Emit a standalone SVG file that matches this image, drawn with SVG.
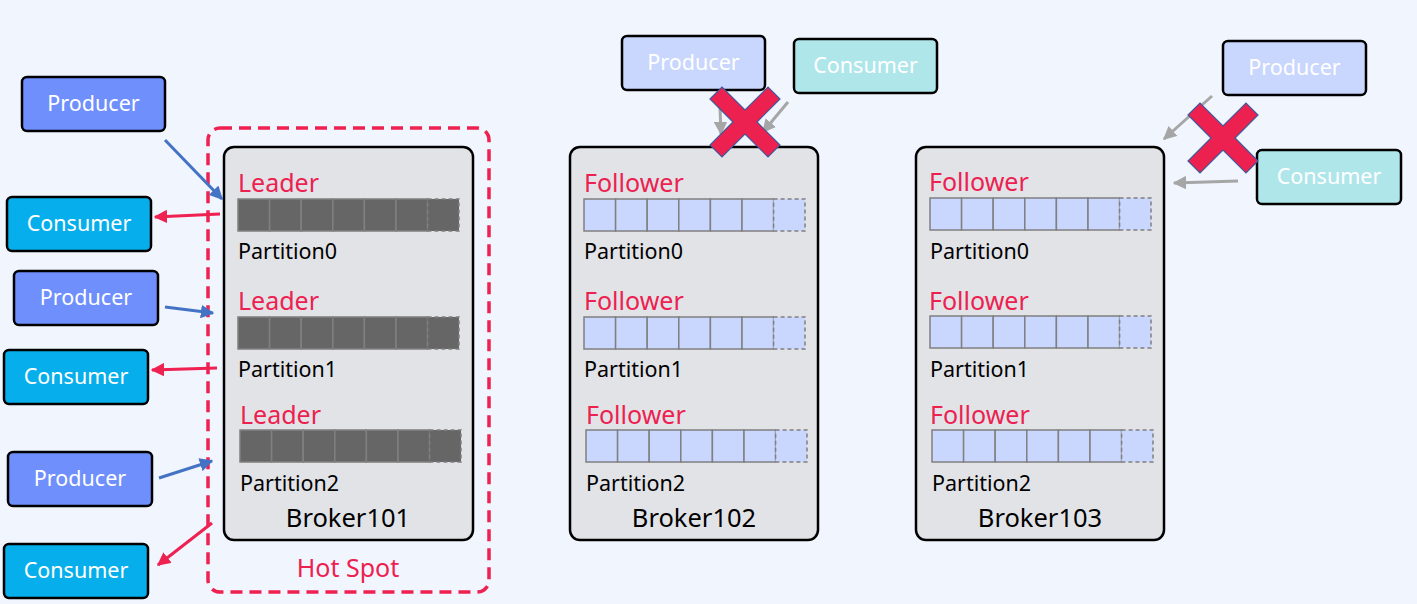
<svg xmlns="http://www.w3.org/2000/svg" width="1417" height="604" viewBox="0 0 1417 604">
<defs>
<style>
text{font-family:"Noto Sans","Open Sans","DejaVu Sans",sans-serif}
.node{stroke:#000;stroke-width:2.5}
.prod{fill:#6f8ffd}
.cons{fill:#06afeb}
.fprod{fill:#c9d6fe}
.fcons{fill:#afe6ea}
.nt{fill:#fff;font-size:21.5px;text-anchor:middle}
.broker{fill:#e2e3e7;stroke:#000;stroke-width:2.5}
.role{fill:#ec2150;font-size:25px}
.part{fill:#000;font-size:21.5px}
.bname{fill:#000;font-size:25.5px;text-anchor:middle}
.cl{fill:#666;stroke:#808080;stroke-width:1.5}
.cf{fill:#c9d6fe;stroke:#808080;stroke-width:1.5}
.dash{stroke-dasharray:4 3}
.xm{fill:#ec2150;stroke:#3e5a9c;stroke-width:1.2}
</style>
<marker id="ab" viewBox="0 0 10 10" refX="9" refY="5" markerWidth="4.5" markerHeight="4.5" orient="auto"><path d="M0,0L10,5L0,10z" fill="#4472c4"/></marker>
<marker id="ar" viewBox="0 0 10 10" refX="9" refY="5" markerWidth="4.5" markerHeight="4.5" orient="auto"><path d="M0,0L10,5L0,10z" fill="#ee2150"/></marker>
<marker id="ag" viewBox="0 0 10 10" refX="9" refY="5" markerWidth="4.5" markerHeight="4.5" orient="auto"><path d="M0,0L10,5L0,10z" fill="#a6a6a6"/></marker>
<g id="barL"><rect class="cl" x="0" y="0" width="31.6" height="32"/><rect class="cl" x="31.6" y="0" width="31.6" height="32"/><rect class="cl" x="63.2" y="0" width="31.6" height="32"/><rect class="cl" x="94.8" y="0" width="31.6" height="32"/><rect class="cl" x="126.4" y="0" width="31.6" height="32"/><rect class="cl" x="158" y="0" width="31.6" height="32"/><rect class="cl dash" x="189.6" y="0" width="31.4" height="32"/></g>
<g id="barF"><rect class="cf" x="0" y="0" width="31.6" height="32"/><rect class="cf" x="31.6" y="0" width="31.6" height="32"/><rect class="cf" x="63.2" y="0" width="31.6" height="32"/><rect class="cf" x="94.8" y="0" width="31.6" height="32"/><rect class="cf" x="126.4" y="0" width="31.6" height="32"/><rect class="cf" x="158" y="0" width="31.6" height="32"/><rect class="cf dash" x="189.6" y="0" width="31.4" height="32"/></g>
</defs>
<rect width="1417" height="604" fill="#f1f5fe"/>

<g id="hotspot">
<rect x="208" y="128" width="281" height="464" rx="12" fill="none" stroke="#ee2150" stroke-width="3.5" stroke-dasharray="12 7"/>
<text x="348" y="577" class="role" text-anchor="middle">Hot Spot</text>
</g>

<g id="broker101">
<rect class="broker" x="224" y="147" width="249" height="393" rx="10"/>
<text class="role" x="238" y="192">Leader</text>
<use href="#barL" x="238" y="199"/>
<text class="part" x="238" y="259">Partition0</text>
<text class="role" x="238" y="310">Leader</text>
<use href="#barL" x="238" y="317"/>
<text class="part" x="238" y="377">Partition1</text>
<text class="role" x="240" y="424">Leader</text>
<use href="#barL" x="240" y="430"/>
<text class="part" x="240" y="491">Partition2</text>
<text class="bname" x="348" y="527">Broker101</text>
</g>

<g id="broker102">
<rect class="broker" x="570" y="147" width="248" height="393" rx="10"/>
<text class="role" x="584" y="192">Follower</text>
<use href="#barF" x="584" y="199"/>
<text class="part" x="584" y="259">Partition0</text>
<text class="role" x="584" y="310">Follower</text>
<use href="#barF" x="584" y="317"/>
<text class="part" x="584" y="377">Partition1</text>
<text class="role" x="586" y="424">Follower</text>
<use href="#barF" x="586" y="430"/>
<text class="part" x="586" y="491">Partition2</text>
<text class="bname" x="694" y="527">Broker102</text>
</g>

<g id="broker103">
<rect class="broker" x="916" y="147" width="248" height="393" rx="10"/>
<text class="role" x="929" y="191">Follower</text>
<use href="#barF" x="930" y="198"/>
<text class="part" x="930" y="259">Partition0</text>
<text class="role" x="929" y="310">Follower</text>
<use href="#barF" x="930" y="316"/>
<text class="part" x="930" y="377">Partition1</text>
<text class="role" x="930" y="424">Follower</text>
<use href="#barF" x="932" y="430"/>
<text class="part" x="932" y="491">Partition2</text>
<text class="bname" x="1040" y="527">Broker103</text>
</g>

<g id="producer1"><rect class="node prod" x="22" y="77" width="143" height="54" rx="5"/><text class="nt" x="93.5" y="111">Producer</text></g>
<g id="consumer1"><rect class="node cons" x="7" y="197" width="144" height="54" rx="5"/><text class="nt" x="79" y="231">Consumer</text></g>
<g id="producer2"><rect class="node prod" x="14" y="271" width="144" height="54" rx="5"/><text class="nt" x="86" y="305">Producer</text></g>
<g id="consumer2"><rect class="node cons" x="4" y="350" width="144" height="54" rx="5"/><text class="nt" x="76" y="384">Consumer</text></g>
<g id="producer3"><rect class="node prod" x="8" y="452" width="144" height="54" rx="5"/><text class="nt" x="80" y="486">Producer</text></g>
<g id="consumer3"><rect class="node cons" x="4" y="544" width="144" height="54" rx="5"/><text class="nt" x="76" y="578">Consumer</text></g>

<g id="producer4"><rect class="node fprod" x="622" y="36" width="143" height="54" rx="5"/><text class="nt" x="693.5" y="70">Producer</text></g>
<g id="consumer4"><rect class="node fcons" x="794" y="39" width="143" height="54" rx="5"/><text class="nt" x="865.5" y="73">Consumer</text></g>
<g id="producer5"><rect class="node fprod" x="1223" y="41" width="143" height="54" rx="5"/><text class="nt" x="1294.5" y="75">Producer</text></g>
<g id="consumer5"><rect class="node fcons" x="1257" y="150" width="144" height="54" rx="5"/><text class="nt" x="1329" y="184">Consumer</text></g>

<g id="connectors" fill="none" stroke-width="3">
<line x1="165" y1="140" x2="222" y2="199" stroke="#4472c4" marker-end="url(#ab)"/>
<line x1="220" y1="214" x2="155" y2="217" stroke="#ee2150" marker-end="url(#ar)"/>
<line x1="165" y1="307" x2="213" y2="313" stroke="#4472c4" marker-end="url(#ab)"/>
<line x1="217" y1="368" x2="152" y2="370" stroke="#ee2150" marker-end="url(#ar)"/>
<line x1="159" y1="478" x2="212" y2="461" stroke="#4472c4" marker-end="url(#ab)"/>
<line x1="212" y1="523" x2="158" y2="565" stroke="#ee2150" marker-end="url(#ar)"/>
<line x1="720" y1="107" x2="721" y2="134" stroke="#a6a6a6" marker-end="url(#ag)"/>
<line x1="788" y1="102" x2="763" y2="132" stroke="#a6a6a6" marker-end="url(#ag)"/>
<line x1="1212" y1="96" x2="1164" y2="139" stroke="#a6a6a6" marker-end="url(#ag)"/>
<line x1="1238" y1="181" x2="1174" y2="183" stroke="#a6a6a6" marker-end="url(#ag)"/>
</g>

<g id="cross1" transform="translate(745,122)">
<path class="xm" d="M-35,-23 L-23,-35 L0,-12 L23,-35 L35,-23 L12,0 L35,23 L23,35 L0,12 L-23,35 L-35,23 L-12,0 Z"/>
</g>
<g id="cross2" transform="translate(1223,138)">
<path class="xm" d="M-35,-23 L-23,-35 L0,-12 L23,-35 L35,-23 L12,0 L35,23 L23,35 L0,12 L-23,35 L-35,23 L-12,0 Z"/>
</g>
</svg>
